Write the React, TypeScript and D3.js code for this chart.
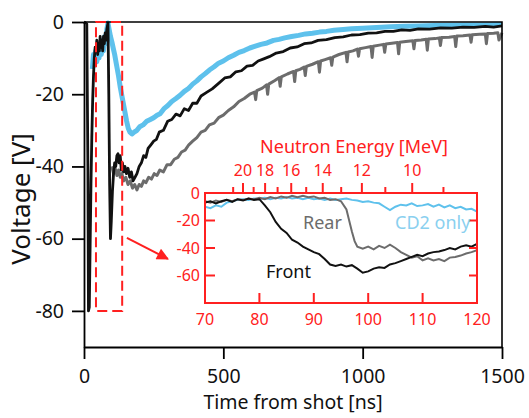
import * as d3 from 'd3'
import { useEffect, useRef } from 'react'

// main panel traces: [time from shot (ns), voltage (V)]
const frontTrace: [number, number][] = [
  [0, 0], [10, -0.5], [14, -40], [16, -80], [19, -79], [22, -62], [25, -45], [28, -32], [31, -22], [34, -15],
  [37, -10], [40, -7], [43, -8], [46, -5], [49, -9], [52, -6], [55, -8], [58, -4], [61, -7], [64, -5],
  [67, -8], [70, -4], [73, -6], [76, -3], [79, -5], [82, -2], [86, -0.3], [89, -20], [92, -45], [95, -60],
  [98, -55], [102, -47], [106, -42], [110, -39], [114, -40], [118, -37], [122, -36.5], [126, -39], [130, -37],
  [134, -41], [138, -39], [142, -41.5], [147, -40], [152, -42], [158, -40.5], [164, -43], [170, -41.5],
  [176, -44], [183, -43], [190, -42], [198, -40], [206, -39], [214, -37], [222, -37.5], [230, -35], [240, -34],
  [250, -33], [260, -32.5], [270, -30.5], [285, -30], [300, -27.5], [315, -27], [330, -25.5], [345, -26],
  [360, -24], [375, -24.5], [390, -22.5], [405, -22.5], [420, -20.5], [440, -19.5], [460, -18.5], [483, -17],
  [505, -15.5], [525, -15.2], [545, -13.8], [565, -13.5], [585, -12.2], [605, -12], [625, -10.8], [645, -10.2],
  [665, -9.6], [690, -8.6], [715, -8.2], [740, -7.2], [765, -6.9], [790, -6.0], [815, -5.8], [840, -5.1],
  [870, -4.9], [900, -4.3], [930, -4.1], [960, -3.6], [990, -3.5], [1020, -3.1], [1050, -3.0], [1080, -2.6],
  [1110, -2.6], [1140, -2.2], [1170, -2.3], [1200, -1.9], [1240, -2.0], [1280, -1.6], [1320, -1.7],
  [1360, -1.4], [1400, -1.5], [1440, -1.2], [1470, -1.4], [1500, -1.1],
]

const rearTrace: [number, number][] = [
  [100, -40], [106, -42], [112, -40.5], [118, -42.5], [124, -41], [130, -43], [136, -42], [142, -44],
  [150, -43], [158, -45], [166, -44], [174, -46], [182, -45], [190, -46.5], [198, -45], [206, -45.5],
  [214, -44], [222, -44.5], [232, -43], [242, -43.5], [252, -42], [262, -42.5], [272, -41], [285, -41.5],
  [298, -39.5], [311, -39.5], [324, -38], [337, -37.5], [350, -36], [363, -35.5], [376, -34], [390, -33],
  [405, -32], [420, -30.5], [435, -30], [450, -28.5], [467, -28], [483, -26.5], [500, -25.8], [518, -24.5],
  [537, -23.5], [556, -22], [575, -21.2], [595, -20], [612, -19.4], [616, -21.5], [620, -19], [640, -18.3],
  [655, -17.4], [659, -20], [663, -17.2], [685, -16.2], [700, -15.4], [704, -17.8], [708, -15.2], [730, -14.4],
  [752, -13.7], [756, -16.5], [760, -13.5], [775, -13.1], [790, -12.5], [794, -14.8], [798, -12.3],
  [820, -11.7], [841, -11], [845, -13.9], [849, -10.8], [865, -10.4], [885, -9.9], [889, -12], [893, -9.7],
  [915, -9], [940, -8.4], [944, -11], [948, -8.3], [965, -8], [981, -7.5], [985, -9.5], [989, -7.4],
  [1010, -7.1], [1030, -6.8], [1034, -9.8], [1038, -6.7], [1060, -6.4], [1075, -6.2], [1079, -8.4],
  [1083, -6.1], [1105, -5.9], [1125, -5.7], [1129, -8.8], [1133, -5.6], [1155, -5.4], [1180, -5.2],
  [1184, -7.4], [1188, -5.1], [1210, -5], [1228, -4.8], [1232, -7.8], [1236, -4.7], [1260, -4.6],
  [1275, -4.4], [1279, -6.5], [1283, -4.3], [1310, -4.2], [1330, -4], [1334, -6.8], [1338, -3.9],
  [1360, -3.8], [1385, -3.6], [1389, -5.6], [1393, -3.5], [1420, -3.4], [1440, -3.3], [1444, -6],
  [1448, -3.2], [1470, -3.1], [1485, -3.0], [1489, -5], [1500, -3.0],
]

const cd2Trace: [number, number][] = [
  [30, -13], [34, -9], [38, -12], [42, -8], [46, -11], [50, -7], [54, -10], [58, -6], [62, -9], [66, -5],
  [70, -8], [74, -4], [78, -6], [82, -2], [86, -0.3], [90, -2], [95, -4], [100, -5.5], [105, -7.3], [110, -9],
  [117, -12], [124, -15], [130, -18], [136, -20.5], [141, -22.5], [147, -25], [153, -27.5], [159, -29.5],
  [165, -30.5], [172, -31], [180, -30.5], [190, -30], [200, -29], [212, -28.5], [225, -27.5], [238, -27],
  [250, -26.5], [262, -25.8], [273, -25.4], [287, -24], [300, -23.2], [315, -22], [330, -21.2], [345, -20.3],
  [360, -19.2], [375, -18.4], [390, -17.2], [405, -16.3], [420, -15.2], [435, -14.3], [450, -13.3],
  [467, -12.4], [483, -11.4], [500, -10.8], [518, -9.9], [537, -9.2], [556, -8.4], [575, -7.9], [595, -7.2],
  [615, -6.7], [635, -6.2], [657, -5.8], [680, -5.1], [700, -4.8], [720, -4.4], [745, -4.0], [770, -3.7],
  [795, -3.3], [820, -3.1], [845, -2.8], [870, -2.6], [897, -2.3], [930, -2.1], [960, -1.9], [1000, -1.7],
  [1050, -1.5], [1100, -1.3], [1150, -1.2], [1200, -1.1], [1260, -1.0], [1320, -0.9], [1380, -0.8],
  [1440, -0.8], [1500, -0.7],
]

// inset (zoom of 70-120 ns)
const insetFront: [number, number][] = [
  [70, -7], [71, -6], [72, -7.5], [73, -6], [74, -5], [75, -6.5], [76, -4.5], [77, -5.5], [78, -4], [79, -5],
  [80, -4.5], [81, -9], [82, -14], [83, -21], [84, -26], [85, -29], [86, -34], [87, -36], [88, -39], [89, -41],
  [90, -43], [91, -44.5], [92, -48], [93, -52], [94, -53], [95, -52], [96, -53.5], [97, -52.5], [98, -55],
  [99, -58], [100, -57], [101, -55], [102, -54], [103, -54.5], [104, -52], [105, -51], [106, -49.5], [107, -48],
  [108, -46.5], [109, -45], [110, -46], [111, -44], [112, -43], [113, -42.5], [114, -41.5], [115, -40],
  [116, -41], [117, -39], [118, -38], [119, -39], [120, -37],
]

const insetRear: [number, number][] = [
  [70, -6], [71, -7], [72, -5.5], [73, -6.5], [74, -5], [75, -6], [76, -4.5], [77, -5], [78, -4], [79, -4.5],
  [80, -3.5], [81, -4.5], [82, -3], [83, -4], [84, -2.5], [85, -3.5], [86, -2], [87, -3], [88, -2], [89, -3],
  [90, -2.5], [91, -4], [92, -3.5], [93, -5], [94, -4.5], [95, -6], [96, -12], [96.5, -20], [97, -28],
  [97.5, -35], [98, -39], [99, -40.5], [100, -39], [101, -41], [102, -38.5], [103, -40], [104, -37.5],
  [105, -40], [106, -43], [107, -45], [108, -47], [109, -46], [110, -49], [111, -47.5], [112, -49], [113, -48],
  [114, -49.5], [115, -47], [116, -46.5], [117, -45.5], [118, -44], [119, -43], [120, -41.5],
]

const insetCd2: [number, number][] = [
  [70, -10], [71, -11], [72, -9], [73, -10], [74, -7], [75, -6], [76, -5], [77, -4.5], [78, -5], [79, -4],
  [80, -4.5], [81, -3.5], [82, -4.5], [83, -3.5], [84, -4], [85, -3], [86, -4], [87, -3.5], [88, -4.5],
  [89, -3.5], [90, -4.5], [91, -4], [92, -5], [93, -4], [94, -5], [95, -4.5], [96, -4], [97, -5], [98, -5.5],
  [99, -6.5], [100, -6], [101, -7], [102, -7.5], [103, -10], [104, -12.5], [105, -10], [106, -8.5], [107, -9],
  [108, -7.5], [109, -9.5], [110, -9], [111, -8], [112, -10], [113, -8.5], [114, -10.5], [115, -9], [116, -11],
  [117, -10], [118, -12], [119, -11.5], [120, -13.5],
]

const timeTicks = [0, 500, 1000, 1500]
const voltTicks = [0, -20, -40, -60, -80]
const insetTimeTicks = [70, 80, 90, 100, 110, 120]
const insetVoltTicks = [0, -20, -40, -60]
const energyMajor = [20, 18, 16, 14, 12, 10]
const energyMinor = [21, 19, 17, 15, 13, 11, 9]

// zoom box and arrow, in main-panel data units
const zoomBox = { t0: 43, t1: 137, v0: 0, v1: -80 }
const arrow = { from: [154, -59.8], to: [301, -65.6] }

const RED = '#ff2020'
const BLUE = '#5ec1ec'
const GRAY = '#6c6c6c'
const FONT = '"Noto Sans", sans-serif'

// time of flight for a given neutron energy (MeV)
const tof = (e: number) => 1.9 + 335.8 / Math.sqrt(e)

function App() {
  const ref = useRef<SVGSVGElement>(null)

  useEffect(() => {
    const svg = d3.select(ref.current)
    svg.selectAll('*').remove()

    const x = d3.scaleLinear().domain([0, 1500]).range([84, 502])
    const y = d3.scaleLinear().domain([-90, 0]).range([347, 22])

    const line = d3.line<[number, number]>().x(d => x(d[0])).y(d => y(d[1]))

    // traces
    svg.append('path').datum(cd2Trace).attr('d', line).attr('fill', 'none')
      .attr('stroke', BLUE).attr('stroke-width', 5).attr('stroke-linejoin', 'round')
    svg.append('path').datum(rearTrace).attr('d', line).attr('fill', 'none')
      .attr('stroke', GRAY).attr('stroke-width', 3).attr('stroke-linejoin', 'round')
    svg.append('path').datum(frontTrace).attr('d', line).attr('fill', 'none')
      .attr('stroke', '#111').attr('stroke-width', 2.8).attr('stroke-linejoin', 'round')

    // frame top / right
    svg.append('path').attr('d', `M${x(0)},${y(0)}H${x(1500)}V${y(-90)}`)
      .attr('fill', 'none').attr('stroke', '#000').attr('stroke-width', 1.6)

    // bottom axis
    const gx = svg.append('g').attr('transform', `translate(0,${y(-90)})`)
    gx.call(d3.axisBottom(x).tickValues(d3.range(100, 1500, 100).filter(v => v % 500 !== 0))
      .tickSize(7).tickSizeOuter(0).tickFormat(() => ''))
    gx.call(d3.axisBottom(x).tickValues(timeTicks).tickSize(12).tickSizeOuter(0).tickPadding(10)
      .tickFormat(d => String(d)))
    gx.selectAll('path,line').attr('stroke', '#000').attr('stroke-width', 1.8)
    gx.selectAll('text').attr('font-size', 19.5).attr('font-family', FONT).attr('fill', '#111')

    // left axis
    const gy = svg.append('g').attr('transform', `translate(${x(0)},0)`)
    gy.call(d3.axisLeft(y).tickValues(voltTicks).tickSize(12).tickSizeOuter(0).tickPadding(8)
      .tickFormat(d => String(d)))
    gy.selectAll('path,line').attr('stroke', '#000').attr('stroke-width', 1.8)
    gy.selectAll('text').attr('font-size', 19.5).attr('font-family', FONT).attr('fill', '#111')

    svg.append('text').text('Time from shot [ns]')
      .attr('x', 293).attr('y', 409).attr('text-anchor', 'middle')
      .attr('font-size', 19.5).attr('font-family', FONT).attr('fill', '#111')
    svg.append('text').text('Voltage [V]')
      .attr('transform', 'translate(30,199) rotate(-90)').attr('text-anchor', 'middle')
      .attr('font-size', 26).attr('font-family', FONT).attr('fill', '#111')

    // zoom box
    svg.append('rect')
      .attr('x', x(zoomBox.t0)).attr('y', y(zoomBox.v0))
      .attr('width', x(zoomBox.t1) - x(zoomBox.t0)).attr('height', y(zoomBox.v1) - y(zoomBox.v0))
      .attr('fill', 'none').attr('stroke', RED).attr('stroke-width', 2).attr('stroke-dasharray', '10,5')

    // arrow
    svg.append('defs').append('marker').attr('id', 'head')
      .attr('viewBox', '0 0 10 10').attr('refX', 9).attr('refY', 5)
      .attr('markerWidth', 14).attr('markerHeight', 12).attr('markerUnits', 'userSpaceOnUse')
      .attr('orient', 'auto')
      .append('path').attr('d', 'M0,0L10,5L0,10Z').attr('fill', RED)
    svg.append('line')
      .attr('x1', x(arrow.from[0])).attr('y1', y(arrow.from[1]))
      .attr('x2', x(arrow.to[0])).attr('y2', y(arrow.to[1]))
      .attr('stroke', RED).attr('stroke-width', 2).attr('marker-end', 'url(#head)')

    // ---------------- inset ----------------
    const ix = d3.scaleLinear().domain([70, 120]).range([205, 477])
    const iy = d3.scaleLinear().domain([-80, 0]).range([303, 193])
    const iline = d3.line<[number, number]>().x(d => ix(d[0])).y(d => iy(d[1]))

    svg.append('rect').attr('x', ix(70)).attr('y', iy(0))
      .attr('width', ix(120) - ix(70)).attr('height', iy(-80) - iy(0)).attr('fill', '#fff')

    svg.append('clipPath').attr('id', 'inclip').append('rect')
      .attr('x', ix(70)).attr('y', iy(0)).attr('width', ix(120) - ix(70)).attr('height', iy(-80) - iy(0))
    const ig = svg.append('g').attr('clip-path', 'url(#inclip)')
    ig.append('path').datum(insetCd2).attr('d', iline).attr('fill', 'none')
      .attr('stroke', BLUE).attr('stroke-width', 2)
    ig.append('path').datum(insetRear).attr('d', iline).attr('fill', 'none')
      .attr('stroke', GRAY).attr('stroke-width', 2)
    ig.append('path').datum(insetFront).attr('d', iline).attr('fill', 'none')
      .attr('stroke', '#111').attr('stroke-width', 2)

    const red = svg.append('g').attr('stroke', RED).attr('stroke-width', 2)
    red.append('rect').attr('x', ix(70)).attr('y', iy(0))
      .attr('width', ix(120) - ix(70)).attr('height', iy(-80) - iy(0)).attr('fill', 'none')
    insetVoltTicks.forEach(v => {
      red.append('line').attr('x1', ix(70)).attr('x2', ix(70) + 10).attr('y1', iy(v)).attr('y2', iy(v))
      red.append('line').attr('x1', ix(120)).attr('x2', ix(120) - 8).attr('y1', iy(v)).attr('y2', iy(v))
    })
    insetTimeTicks.forEach(t => {
      red.append('line').attr('x1', ix(t)).attr('x2', ix(t)).attr('y1', iy(-80)).attr('y2', iy(-80) - 10)
    })
    energyMajor.forEach(e => {
      red.append('line').attr('x1', ix(tof(e))).attr('x2', ix(tof(e))).attr('y1', iy(0)).attr('y2', iy(0) - 10)
    })
    energyMinor.forEach(e => {
      red.append('line').attr('x1', ix(tof(e))).attr('x2', ix(tof(e))).attr('y1', iy(0)).attr('y2', iy(0) - 6)
    })

    const redText = svg.append('g').attr('fill', RED).attr('font-family', FONT)
    redText.selectAll('.iy').data(insetVoltTicks).join('text')
      .attr('x', ix(70) - 5).attr('y', d => iy(d)).attr('dy', '0.35em')
      .attr('text-anchor', 'end').attr('font-size', 16).text(d => String(d))
    redText.selectAll('.ix').data(insetTimeTicks).join('text')
      .attr('x', d => ix(d)).attr('y', 325)
      .attr('text-anchor', 'middle').attr('font-size', 16).text(d => String(d))
    redText.selectAll('.ie').data(energyMajor).join('text')
      .attr('x', d => ix(tof(d))).attr('y', 176)
      .attr('text-anchor', 'middle').attr('font-size', 16).text(d => String(d))
    redText.append('text').text('Neutron Energy [MeV]')
      .attr('x', 354).attr('y', 153).attr('text-anchor', 'middle').attr('font-size', 18)

    const lab = svg.append('g').attr('font-family', FONT).attr('font-size', 18)
    lab.append('text').text('Rear').attr('x', 303).attr('y', 229).attr('fill', GRAY)
    lab.append('text').text('Front').attr('x', 266).attr('y', 278).attr('fill', '#111')
    lab.append('text').text('CD2 only').attr('x', 395).attr('y', 229).attr('fill', '#8ad0ef')
  }, [])

  return (
    <svg ref={ref} width={529} height={418}
      style={{ position: 'absolute', left: 0, top: 0, background: '#fff' }} />
  )
}

export default App
